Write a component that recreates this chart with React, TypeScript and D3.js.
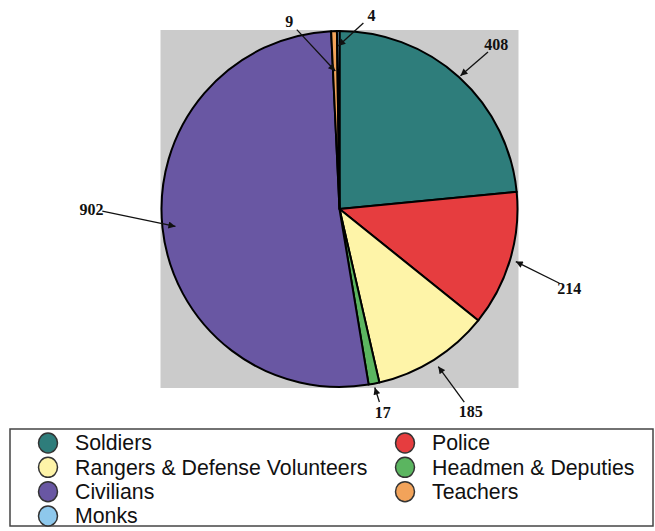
import React from "react";
import * as d3 from "d3";

const categories = [
  "Soldiers",
  "Police",
  "Rangers & Defense Volunteers",
  "Headmen & Deputies",
  "Civilians",
  "Teachers",
  "Monks",
];
const values = [408, 214, 185, 17, 902, 9, 4];
const colors = ["#2e7d7b", "#e63d3f", "#fef4a8", "#5bb560", "#6957a3", "#f2a35a", "#8ec8ec"];

// label layout (angle in degrees, clockwise from top; radii in px)
const labelAngle = [43.7, 109, 147, 168, 270, 345, 9.4];
const labelRadius = [227, 243, 241, 208, 248, 194, 196];
const tipRadius = [180, 184, 186, 182, 165, 138, 163];

const W = 655;
const H = 531;
const cx = 339.5;
const cy = 209;
const R = 178;

export default function App() {
  const color = d3.scaleOrdinal<string, string>().domain(categories).range(colors);
  const data = categories.map((c, i) => ({ c, v: values[i], i }));
  const pie = d3
    .pie<{ c: string; v: number; i: number }>()
    .value((d) => d.v)
    .sort(null)
    .startAngle(0)
    .endAngle(2 * Math.PI);
  const arcs = pie(data);
  const arc = d3.arc<d3.PieArcDatum<{ c: string; v: number; i: number }>>().innerRadius(0).outerRadius(R);

  const polar = (angDeg: number, r: number) => {
    const a = (angDeg * Math.PI) / 180;
    return [cx + r * Math.sin(a), cy - r * Math.cos(a)];
  };

  const legendRowY = d3.scaleLinear().domain([0, 3]).range([443, 516]);
  const legendCol = [
    { cx: 48, tx: 75 },
    { cx: 405, tx: 432 },
  ];

  return (
    <div style={{ position: "fixed", left: 0, top: 0 }}>
      <svg width={W} height={H} style={{ display: "block", background: "#fff" }}>
        <defs>
          <marker id="ah" viewBox="0 0 10 10" refX="10" refY="5" markerWidth="9" markerHeight="7" markerUnits="userSpaceOnUse" orient="auto">
            <path d="M0,0 L10,5 L0,10 z" fill="#111" />
          </marker>
        </defs>
        <rect x={cx - R - 1} y={cy - R - 1} width={2 * R + 2} height={2 * R + 2} fill="#cbcbcb" />
        <g transform={`translate(${cx},${cy})`}>
          {arcs.map((a) => (
            <path key={a.data.c} d={arc(a) || ""} fill={color(a.data.c)} stroke="#000" strokeWidth={2} strokeLinejoin="round" />
          ))}
        </g>
        {arcs.map((a, i) => {
          const mid = (((a.startAngle + a.endAngle) / 2) * 180) / Math.PI;
          const [lx, ly] = polar(labelAngle[i], labelRadius[i]);
          const [tx, ty] = polar(mid, tipRadius[i]);
          const dx = tx - lx;
          const dy = ty - ly;
          const len = Math.hypot(dx, dy);
          const gap = 11;
          const sx = lx + (dx / len) * gap;
          const sy = ly + (dy / len) * gap;
          return (
            <g key={"lab" + i}>
              <line x1={sx} y1={sy} x2={tx} y2={ty} stroke="#111" strokeWidth={1.3} markerEnd="url(#ah)" />
              <text
                x={lx}
                y={ly}
                dy="0.35em"
                textAnchor="middle"
                fontFamily="'Liberation Serif', 'DejaVu Serif', serif"
                fontWeight="bold"
                fontSize={16}
                fill="#111"
              >
                {values[i]}
              </text>
            </g>
          );
        })}
        <rect x={10} y={429} width={643} height={97} fill="#fff" stroke="#444" strokeWidth={1.5} />
        {categories.map((c, i) => {
          const col = legendCol[i % 2];
          const y = legendRowY(Math.floor(i / 2));
          return (
            <g key={"lg" + c}>
              <ellipse cx={col.cx} cy={y} rx={9.5} ry={10} fill={color(c)} stroke="#333" strokeWidth={1.5} />
              <text x={col.tx} y={y} dy="0.35em" fontFamily="'Liberation Sans', Arial, sans-serif" fontSize={21.3} fill="#111">
                {c}
              </text>
            </g>
          );
        })}
      </svg>
    </div>
  );
}
